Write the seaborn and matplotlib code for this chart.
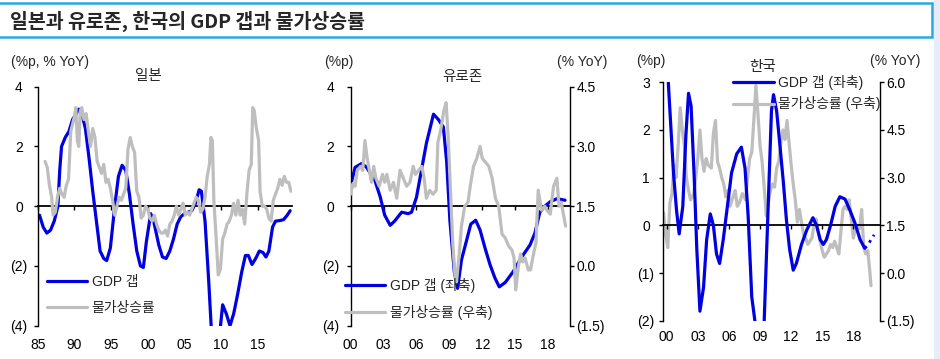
"""
GDP gap vs. inflation: Japan (1985-), Euro area and Korea (2000-), three panels.
Values read off the reference chart (decimal years).
"""
import matplotlib
matplotlib.use("Agg")
import matplotlib.pyplot as plt
from matplotlib.patches import Rectangle
import seaborn as sns

sns.set_theme(style="white")
plt.rcParams["font.family"] = ["Liberation Sans", "Noto Sans CJK KR"]
plt.rcParams["axes.unicode_minus"] = False
plt.rcParams["lines.solid_joinstyle"] = "round"

BLUE = "#0000E0"
GREY = "#BEBEBE"

# ---- Japan (left axis only) ----
jp_gap_t = [1985.25, 1985.75, 1986.25, 1986.75, 1987.25, 1987.75, 1988.0, 1988.25, 1988.75,
            1989.25, 1989.75, 1990.25, 1990.6, 1991.0, 1991.5, 1992.0, 1992.5, 1993.0, 1993.5,
            1994.0, 1994.4, 1994.9, 1995.5, 1996.0, 1996.5, 1997.0, 1997.5, 1998.0, 1998.5,
            1999.0, 1999.4, 1999.8, 2000.4, 2000.8, 2001.5, 2002.0, 2002.5, 2003.0, 2003.5,
            2004.0, 2004.5, 2005.0, 2005.5, 2006.0, 2006.5, 2007.0, 2007.3, 2007.8, 2008.3,
            2008.7, 2009.2, 2009.7, 2010.2, 2010.7, 2011.2, 2011.7, 2012.2, 2012.8, 2013.3,
            2013.7, 2014.2, 2014.7, 2015.2, 2015.7, 2016.1, 2016.5, 2017.0, 2017.4, 2018.0,
            2018.5, 2019.0, 2019.4]
jp_gap = [-0.3, -0.7, -0.9, -0.8, -0.5, 0.0, 1.2, 2.0, 2.3,
          2.5, 2.9, 3.1, 3.25, 3.1, 2.6, 1.6, 0.5, -0.5, -1.5,
          -1.75, -1.82, -1.4, 0.0, 1.0, 1.37, 1.2, 0.4, -0.6, -1.5,
          -2.0, -2.05, -1.2, -0.25, -0.5, -1.3, -1.7, -1.75, -1.5, -1.1,
          -0.6, -0.35, -0.25, -0.2, -0.15, 0.1, 0.55, 0.5, -0.5, -2.5,
          -4.3, -5.8, -4.5, -3.3, -3.6, -4.0, -3.6, -3.0, -2.2, -1.65,
          -1.65, -1.95, -1.75, -1.5, -1.55, -1.7, -1.5, -0.7, -0.5, -0.48,
          -0.45, -0.3, -0.15]

jp_cpi_t = [1986.0, 1986.3, 1986.6, 1986.9, 1987.1, 1987.4, 1987.7, 1988.0, 1988.3, 1988.6,
            1988.9, 1989.2, 1989.5, 1989.8, 1990.0, 1990.2, 1990.4, 1990.6, 1990.8, 1991.0,
            1991.3, 1991.6, 1991.9, 1992.2, 1992.5, 1992.8, 1993.1, 1993.4, 1993.7, 1994.0,
            1994.3, 1994.6, 1994.9, 1995.2, 1995.5, 1995.8, 1996.1, 1996.4, 1996.7, 1997.0,
            1997.3, 1997.6, 1997.9, 1998.2, 1998.5, 1998.8, 1999.1, 1999.4, 1999.7, 2000.0,
            2000.3, 2000.6, 2000.9, 2001.2, 2001.5, 2001.8, 2002.1, 2002.4, 2002.7, 2003.0,
            2003.3, 2003.6, 2003.9, 2004.2, 2004.5, 2004.8, 2005.1, 2005.4, 2005.7, 2006.0,
            2006.3, 2006.6, 2006.9, 2007.2, 2007.5, 2007.8, 2008.1, 2008.4, 2008.6, 2008.8,
            2009.0, 2009.3, 2009.6, 2009.9, 2010.2, 2010.5, 2010.8, 2011.1, 2011.4, 2011.7,
            2012.0, 2012.3, 2012.6, 2012.9, 2013.2, 2013.5, 2013.8, 2014.1, 2014.3, 2014.5,
            2014.8, 2015.1, 2015.3, 2015.6, 2015.9, 2016.2, 2016.5, 2016.8, 2017.1, 2017.4,
            2017.7, 2018.0, 2018.3, 2018.6, 2018.9, 2019.2, 2019.5]
jp_cpi = [1.5, 1.3, 0.7, 0.3, -0.3, -0.2, 0.3, 0.6, 0.4, 0.3,
          0.7, 0.9, 2.5, 2.8, 3.0, 3.3, 2.2, 2.0, 3.2, 3.3,
          2.9, 3.1, 2.5, 2.0, 2.6, 2.3, 1.5, 1.3, 1.1, 1.4,
          0.8, 0.9, 0.6, 0.2, -0.3, 0.0, 0.3, 0.2, 0.4, 0.6,
          1.9, 2.3, 2.0, 1.8, 0.5, 0.3, -0.4, -0.3, 0.0, -0.1,
          -0.4, -0.5, -0.3, -0.6, -0.8, -0.9, -0.9, -0.8, -1.0, -0.6,
          -0.5, -0.3, 0.0, -0.3, -0.1, 0.1, -0.3, -0.2, -0.3, -0.1,
          0.1, 0.3, 0.2, -0.2, -0.1, 0.3, 1.0, 1.4, 2.3, 2.2,
          0.2, -1.0, -2.3, -2.1, -1.1, -0.9, -0.6, -0.5, -0.3, 0.1,
          -0.3, 0.2, -0.3, -0.1, -0.6, 0.4, 1.2, 1.4, 3.3, 3.2,
          2.6, 2.2, 0.5, 0.0, 0.0, -0.1, -0.4, -0.5, 0.2, 0.4,
          0.6, 0.9, 0.7, 1.0, 0.8, 0.8, 0.5]

# ---- Euro area (gap left, HICP right) ----
ez_gap_t = [2000.0, 2000.4, 2001.0, 2001.45, 2002.2, 2002.7, 2003.1, 2003.6, 2004.0, 2004.65,
            2005.25, 2005.55, 2006.0, 2006.5, 2006.9, 2007.55, 2008.0, 2008.45, 2008.75, 2009.05,
            2009.45, 2009.75, 2010.1, 2010.6, 2010.95, 2011.4, 2011.8, 2012.25, 2012.7, 2013.15,
            2013.55, 2014.1, 2014.8, 2015.6, 2016.35, 2016.8, 2017.25, 2017.7, 2018.2, 2018.8,
            2019.55]
ez_gap = [0.7, 1.3, 1.43, 1.3, 0.87, 0.3, -0.3, -0.64, -0.5, -0.2,
          -0.25, -0.2, 0.3, 1.3, 2.1, 3.08, 2.9, 2.65, 1.5, -0.5,
          -2.2, -2.75, -1.8, -1.1, -0.6, -0.47, -0.8, -1.4, -1.95, -2.4,
          -2.7, -2.55, -2.2, -1.7, -1.3, -0.9, -0.2, 0.0, 0.15, 0.25,
          0.2]

ez_cpi_t = [2000.0, 2000.2, 2000.4, 2000.6, 2000.9, 2001.1, 2001.3, 2001.5, 2001.7, 2001.9,
            2002.1, 2002.3, 2002.6, 2002.9, 2003.1, 2003.3, 2003.6, 2003.9, 2004.2, 2004.5,
            2004.8, 2005.1, 2005.4, 2005.7, 2005.9, 2006.2, 2006.5, 2006.7, 2006.9, 2007.2,
            2007.5, 2007.8, 2007.95, 2008.2, 2008.5, 2008.7, 2008.9, 2009.1, 2009.3, 2009.5,
            2009.65, 2009.9, 2010.1, 2010.4, 2010.7, 2010.9, 2011.2, 2011.5, 2011.8, 2012.0,
            2012.3, 2012.6, 2012.9, 2013.2, 2013.5, 2013.8, 2014.1, 2014.4, 2014.7, 2014.9,
            2015.05, 2015.3, 2015.5, 2015.7, 2015.9, 2016.2, 2016.4, 2016.6, 2016.9, 2017.1,
            2017.4, 2017.7, 2017.9, 2018.2, 2018.5, 2018.8, 2019.0, 2019.2, 2019.4, 2019.6]
ez_cpi = [1.8, 2.07, 2.0, 2.4, 2.5, 2.4, 3.15, 2.7, 2.4, 2.1,
          2.5, 2.2, 2.0, 2.3, 2.1, 2.3, 1.9, 2.1, 1.7, 2.4,
          2.2, 2.0, 2.1, 2.5, 2.3, 2.4, 2.5, 2.2, 1.7, 1.9,
          1.8, 1.9, 3.1, 3.4, 3.9, 4.1, 3.2, 1.9, 0.6, -0.2,
          -0.4, 0.3, 1.0, 1.5, 1.6, 2.0, 2.5, 2.7, 3.0, 2.7,
          2.6, 2.5, 2.2, 1.7, 1.5, 0.8, 0.7, 0.5, 0.4, 0.2,
          -0.6, 0.0, 0.3, 0.1, 0.2, -0.1, -0.1, 0.2, 0.6, 1.9,
          1.4, 1.5, 1.4, 1.3, 2.0, 2.2, 1.5, 1.6, 1.3, 1.0]

# ---- Korea (gap left, CPI right) ----
kr_gap_t = [2000.0, 2000.15, 2000.65, 2000.95, 2001.2, 2001.55, 2001.85, 2002.1, 2002.35, 2002.65,
            2002.9, 2003.2, 2003.55, 2003.85, 2004.2, 2004.5, 2004.8, 2005.1, 2005.45, 2005.85,
            2006.25, 2006.75, 2007.2, 2007.55, 2007.85, 2008.2, 2008.5, 2008.8, 2009.1, 2009.4,
            2009.8, 2010.1, 2010.3, 2010.6, 2010.95, 2011.25, 2011.55, 2011.85, 2012.2, 2012.5,
            2013.0, 2013.5, 2014.1, 2014.45, 2014.8, 2015.1, 2015.4, 2015.8, 2016.25, 2016.7,
            2017.2, 2017.7, 2018.15, 2018.65, 2019.1]
kr_gap = [3.4, 3.0, 1.1, 0.3, -0.18, 0.4, 1.9, 2.77, 2.5, 1.0,
          -0.5, -1.8, -1.3, -0.3, 0.24, 0.0, -0.6, -0.8, -0.3, 0.4,
          1.1, 1.5, 1.64, 1.2, 0.2, -1.5, -2.0, -2.7, -2.9, -2.0,
          0.5, 2.4, 2.74, 2.4, 1.6, 0.9, 0.1, -0.5, -0.94, -0.8,
          -0.4, -0.1, 0.16, 0.0, -0.3, -0.4, -0.3, 0.0, 0.4, 0.6,
          0.55, 0.3, 0.05, -0.3, -0.48]
# dotted projection
kr_fc_t = [2019.1, 2019.4, 2019.7, 2020.0]
kr_fc = [-0.48, -0.42, -0.3, -0.2]

kr_cpi_t = [1999.7, 1999.9, 2000.1, 2000.3, 2000.5, 2000.7, 2000.9, 2001.1, 2001.3, 2001.5,
            2001.7, 2001.9, 2002.1, 2002.3, 2002.6, 2002.8, 2003.0, 2003.2, 2003.4, 2003.6,
            2003.8, 2004.0, 2004.3, 2004.5, 2004.7, 2004.9, 2005.1, 2005.3, 2005.5, 2005.7,
            2005.9, 2006.1, 2006.4, 2006.6, 2006.8, 2007.0, 2007.3, 2007.6, 2007.8, 2008.0,
            2008.2, 2008.4, 2008.6, 2008.8, 2009.0, 2009.2, 2009.4, 2009.6, 2009.8, 2010.0,
            2010.2, 2010.4, 2010.6, 2010.8, 2011.0, 2011.2, 2011.4, 2011.6, 2011.8, 2012.0,
            2012.2, 2012.4, 2012.6, 2012.8, 2013.0, 2013.2, 2013.4, 2013.6, 2013.8, 2014.0,
            2014.2, 2014.4, 2014.6, 2014.8, 2015.0, 2015.2, 2015.4, 2015.6, 2015.8, 2016.0,
            2016.2, 2016.4, 2016.6, 2016.8, 2017.0, 2017.2, 2017.4, 2017.6, 2017.8, 2018.0,
            2018.2, 2018.4, 2018.6, 2018.8, 2019.0, 2019.2, 2019.4, 2019.6, 2019.7]
kr_cpi = [1.9, 1.2, 0.8, 2.2, 2.5, 3.4, 3.0, 4.0, 5.2, 4.5,
          4.0, 3.0, 2.6, 2.3, 2.5, 3.0, 3.6, 4.5, 3.6, 3.2,
          3.6, 3.4, 3.3, 4.4, 4.8, 3.5, 3.3, 3.0, 2.8, 2.4,
          2.6, 2.1, 2.4, 2.6, 2.1, 2.2, 2.5, 2.3, 3.0, 3.6,
          3.8, 4.8, 5.9, 5.0, 4.0, 3.5, 2.7, 1.8, 2.2, 2.6,
          2.8, 2.7, 3.3, 3.5, 4.1, 4.5, 4.2, 4.8, 4.1, 3.4,
          2.8, 2.3, 1.6, 2.0, 1.6, 1.2, 1.1, 0.9, 1.0, 1.1,
          1.5, 1.7, 1.3, 1.0, 0.7, 0.5, 0.6, 0.7, 0.9, 0.8,
          1.0, 0.8, 0.6, 1.3, 2.0, 2.1, 2.0, 2.3, 1.7, 1.1,
          1.4, 1.5, 1.4, 2.0, 0.8, 0.6, 0.7, 0.0, -0.4]

jp_xticks = [1985, 1990, 1995, 2000, 2005, 2010, 2015]
jp_xlabels = ["85", "90", "95", "00", "05", "10", "15"]
ez_xticks = [2000, 2003, 2006, 2009, 2012, 2015, 2018]
ez_xlabels = ["00", "03", "06", "09", "12", "15", "18"]
gap4_ticks = [-4, -2, 0, 2, 4]
gap4_labels = ["(4)", "(2)", "0", "2", "4"]
ez_rticks = [-1.5, 0.0, 1.5, 3.0, 4.5]
ez_rlabels = ["(1.5)", "0.0", "1.5", "3.0", "4.5"]
kr_yticks = [-2, -1, 0, 1, 2, 3]
kr_ylabels = ["(2)", "(1)", "0", "1", "2", "3"]
kr_rticks = [-1.5, 0.0, 1.5, 3.0, 4.5, 6.0]
kr_rlabels = ["(1.5)", "0.0", "1.5", "3.0", "4.5", "6.0"]

W, H = 940, 359
LW = 2.3


def fx(px):
    return px / W


def fy(py):
    return 1 - py / H


def style_left(ax, xlim, xticks, xlabels, ylim, yticks, ylabels, zero_frac, xpad, ypad):
    ax.set_xlim(xlim)
    ax.set_ylim(ylim)
    for s in ["top", "right", "bottom"]:
        ax.spines[s].set_visible(False)
    ax.spines["left"].set_color("black")
    ax.spines["left"].set_linewidth(1.0)
    ax.set_yticks(yticks, ylabels)
    ax.tick_params(axis="y", left=True, direction="out", length=3, width=1,
                   color="black", labelsize=10, labelcolor="black", pad=ypad)
    for lab in ax.get_yticklabels():
        lab.set_horizontalalignment("center")
    ax.set_xticks(xticks, xlabels)
    ax.tick_params(axis="x", bottom=False, length=0, labelsize=10,
                   labelcolor="black", pad=xpad)
    ax.set_xlabel("")
    ax.set_ylabel("")
    # zero line with small ticks
    sec = ax.secondary_xaxis(zero_frac)
    sec.set_alignment("bottom")
    sec.set_xticks(xticks)
    sec.tick_params(axis="x", bottom=True, top=False, direction="out", length=3,
                    width=1, color="black", labelbottom=False, labeltop=False)
    for s in sec.spines.values():
        s.set_color("black")
        s.set_linewidth(1.3)


def style_right(ax2, ylim, yticks, ylabels):
    ax2.set_ylim(ylim)
    for s in ["top", "left", "bottom"]:
        ax2.spines[s].set_visible(False)
    ax2.spines["right"].set_visible(True)
    ax2.spines["right"].set_color("black")
    ax2.spines["right"].set_linewidth(1.0)
    ax2.set_yticks(yticks, ylabels)
    ax2.tick_params(axis="y", right=True, direction="out", length=3, width=1,
                    color="black", labelsize=10, labelcolor="black", pad=1.5)
    ax2.set_ylabel("")


def add_legend(ax, handles, labels, x, y, spacing):
    ax.legend(handles, labels, loc="center left", bbox_to_anchor=(fx(x), fy(y)),
              bbox_transform=ax.figure.transFigure, frameon=False, fontsize=10,
              borderpad=0, borderaxespad=0, handlelength=2.9, handletextpad=0.35,
              labelspacing=spacing)


fig = plt.figure(figsize=(9.4, 3.59), dpi=100)

# header bar
fig.add_artist(Rectangle((fx(-5), fy(37)), fx(937), 34 / H, transform=fig.transFigure,
                         fill=False, edgecolor="#2AA9E0", lw=1.8))
fig.add_artist(Rectangle((fx(934), 0), fx(6), 1, transform=fig.transFigure,
                         facecolor="#E8ECF8", edgecolor="none"))
fig.text(fx(10), fy(21), "일본과 유로존, 한국의 GDP 갭과 물가상승률", fontsize=14,
         fontweight="bold", family=["Noto Sans CJK KR"], va="center", ha="left")

# ---- panel 1: Japan ----
ax1 = fig.add_axes([fx(37.7), fy(325.7), fx(292 - 37.7), (325.7 - 86.7) / H])
sns.lineplot(x=jp_gap_t, y=jp_gap, ax=ax1, color=BLUE, lw=LW)
sns.lineplot(x=jp_cpi_t, y=jp_cpi, ax=ax1, color=GREY, lw=LW)
style_left(ax1, (1985, 2019.65), jp_xticks, jp_xlabels, (-4, 4), gap4_ticks, gap4_labels,
           0.5, 8.5, 10.5)
add_legend(ax1, ax1.get_lines()[:2], ["GDP 갭", "물가상승률"], 46.7, 295.2, 0.85)
fig.text(fx(11), fy(61.7), "(%p, % YoY)", fontsize=10, va="center", ha="left")
fig.text(fx(148), fy(76), "일본", fontsize=10.5, va="center", ha="center")

# ---- panel 2: Euro area ----
ax2 = fig.add_axes([fx(350.7), fy(325.7), fx(570 - 350.7), (325.7 - 86.7) / H])
sns.lineplot(x=ez_gap_t, y=ez_gap, ax=ax2, color=BLUE, lw=LW)
style_left(ax2, (2000, 2020), ez_xticks, ez_xlabels, (-4, 4), gap4_ticks, gap4_labels,
           0.5, 8.5, 11.5)
ax2r = ax2.twinx()
sns.lineplot(x=ez_cpi_t, y=ez_cpi, ax=ax2r, color=GREY, lw=LW)
style_right(ax2r, (-1.5, 4.5), ez_rticks, ez_rlabels)
add_legend(ax2r, [ax2.get_lines()[0], ax2r.get_lines()[0]],
           ["GDP 갭 (좌축)", "물가상승률 (우축)"], 345, 299.2, 0.85)
fig.text(fx(338.5), fy(62), "(%p)", fontsize=10, va="center", ha="center")
fig.text(fx(582.5), fy(62), "(% YoY)", fontsize=10, va="center", ha="center")
fig.text(fx(462.5), fy(76.7), "유로존", fontsize=10.5, va="center", ha="center")

# ---- panel 3: Korea ----
ax3 = fig.add_axes([fx(662.7), fy(320.7), fx(880 - 662.7), (320.7 - 82.3) / H])
sns.lineplot(x=kr_gap_t, y=kr_gap, ax=ax3, color=BLUE, lw=LW)
sns.lineplot(x=kr_fc_t, y=kr_fc, ax=ax3, color=BLUE, lw=2.0, linestyle=":")
style_left(ax3, (1999.61, 2020.57), ez_xticks, ez_xlabels, (-2, 3), kr_yticks, kr_ylabels,
           0.4, 7.0, 9.0)
ax3r = ax3.twinx()
sns.lineplot(x=kr_cpi_t, y=kr_cpi, ax=ax3r, color=GREY, lw=LW)
style_right(ax3r, (-1.5, 6.0), kr_rticks, kr_rlabels)
ax3.set_zorder(ax3r.get_zorder() + 1)
ax3.patch.set_visible(False)
add_legend(ax3, [ax3.get_lines()[0], ax3r.get_lines()[0]],
           ["GDP 갭 (좌축)", "물가상승률 (우축)"], 733.3, 93, 0.5)
fig.text(fx(651), fy(61), "(%p)", fontsize=10, va="center", ha="center")
fig.text(fx(895.5), fy(61), "(% YoY)", fontsize=10, va="center", ha="center")
fig.text(fx(763), fy(67.3), "한국", fontsize=10.5, va="center", ha="center")

fig.savefig("out.png", dpi=100)
